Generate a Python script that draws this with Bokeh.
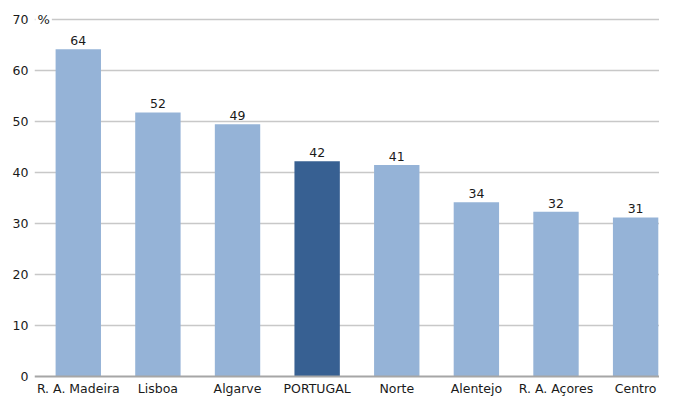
from bokeh.plotting import figure
from bokeh.models import Range1d, ColumnDataSource, FixedTicker, Span
from bokeh.core.properties import value
from bokeh.embed import file_html
from bokeh.resources import INLINE

regions = ["R. A. Madeira", "Lisboa", "Algarve", "PORTUGAL", "Norte", "Alentejo", "R. A. Açores", "Centro"]
values = [64.2, 51.8, 49.5, 42.2, 41.5, 34.2, 32.3, 31.2]
labels = ["64", "52", "49", "42", "41", "34", "32", "31"]
colors = ["#95B3D7", "#95B3D7", "#95B3D7", "#376092", "#95B3D7", "#95B3D7", "#95B3D7", "#95B3D7"]
y_ticks = [0, 10, 20, 30, 40, 50, 60, 70]
unit = "%"

xs = [i + 0.5 for i in range(len(regions))]
src = ColumnDataSource(dict(x=xs, top=values, lab=labels, color=colors))

FONT = "DejaVu Sans"
FS = "12.5px"
TXT = "#1a1a1a"

X0 = -0.05
p = figure(width=659, height=398, output_backend="svg", toolbar_location=None,
           x_range=Range1d(X0, 7.8), y_range=Range1d(-0.4, 71.6),
           min_border_left=34, min_border_right=0, min_border_top=11, min_border_bottom=16)
p.outline_line_color = None
p.background_fill_color = "white"
p.border_fill_color = "white"

p.vbar(x="x", top="top", bottom=0, width=0.57, color="color", line_color=None, source=src)
p.text(x="x", y="top", text="lab", source=src, text_align="center", text_baseline="bottom",
       y_offset=-4, text_font=value(FONT), text_font_size=FS, text_color=TXT)

# unit marker next to the top tick label
p.text(x=[X0], y=[y_ticks[-1]], text=[unit], text_align="left", text_baseline="middle",
       x_offset=1, text_font=value(FONT), text_font_size="13px", text_color=TXT,
       background_fill_color="white", padding=2)

p.xgrid.visible = False
p.ygrid.ticker = FixedTicker(ticks=y_ticks[1:])
p.ygrid.grid_line_color = "#C8C8C8"
p.ygrid.grid_line_width = 1.5

zero = Span(location=0, dimension="width", line_color="#A6A6A6", line_width=2)
p.add_layout(zero)

ya = p.yaxis[0]
ya.ticker = FixedTicker(ticks=y_ticks)
ya.axis_line_color = None
ya.major_tick_line_color = None
ya.minor_tick_line_color = None
ya.major_tick_out = 0
ya.major_tick_in = 0
ya.major_label_standoff = 6
ya.major_label_text_font = FONT
ya.major_label_text_font_size = FS
ya.major_label_text_color = TXT

xa = p.xaxis[0]
xa.ticker = FixedTicker(ticks=xs)
xa.major_label_overrides = {x: r for x, r in zip(xs, regions)}
xa.axis_line_color = None
xa.major_tick_line_color = None
xa.minor_tick_line_color = None
xa.major_tick_out = 0
xa.major_tick_in = 0
xa.major_label_standoff = 2
xa.major_label_text_font = FONT
xa.major_label_text_font_size = FS
xa.major_label_text_color = TXT

open("out.html", "w").write(file_html(p, INLINE))
